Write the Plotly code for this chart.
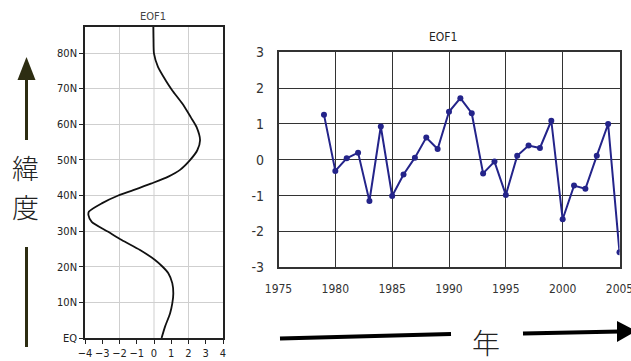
import plotly.graph_objects as go

# ---- Latitude profile of EOF1 (left panel) ----
profile_lat = [0, 3.2, 6.9, 9.7, 12.5, 15.4, 18.2, 20, 21.9, 24.7, 27.5, 29.8, 32.6,
               34.5, 35.5, 37.8, 40, 41.5, 43.4, 45.3, 47.2, 50, 52.7, 55.5, 59.2,
               62, 65.8, 69.5, 72.3, 76.1, 79.8, 84, 87.3]
profile_val = [0.44, 0.64, 0.93, 1.06, 1.12, 1.06, 0.83, 0.5, 0.06, -0.81, -1.87,
               -2.65, -3.61, -3.8, -3.77, -3.03, -2.07, -1.2, -0.14, 0.83, 1.51, 2.1,
               2.51, 2.67, 2.47, 2.13, 1.64, 1.06, 0.68, 0.23, 0.0, -0.03, -0.04]
lat_tickvals = [0, 10, 20, 30, 40, 50, 60, 70, 80]
lat_ticktext = ["EQ", "10N", "20N", "30N", "40N", "50N", "60N", "70N", "80N"]
profile_ticks = [-4, -3, -2, -1, 0, 1, 2, 3, 4]
profile_grid = [-2, 0, 2]

# ---- EOF1 time coefficients (right panel) ----
years = list(range(1979, 2006))
pc1 = [1.26, -0.31, 0.04, 0.2, -1.15, 0.93, -1.01, -0.41, 0.06, 0.62, 0.3,
       1.34, 1.72, 1.3, -0.38, -0.05, -0.98, 0.11, 0.4, 0.33, 1.09,
       -1.66, -0.72, -0.81, 0.11, 1.0, -2.58]
year_ticks = [1975, 1980, 1985, 1990, 1995, 2000, 2005]
pc_ticks = [3, 2, 1, 0, -1, -2, -3]
pc_ticktext = ["3", "2", "1", "0", "-1", "-2", "-3"]

W, H = 631, 361


def px(x):
    return x / W


def py(y):
    return 1 - y / H


narrow = "Liberation Sans Narrow, DejaVu Sans Condensed, Arial Narrow, sans-serif"
cjk = "Noto Sans CJK JP, Noto Sans CJK SC, sans-serif"

fig = go.Figure()

fig.add_trace(go.Scatter(
    x=profile_val, y=profile_lat, mode="lines",
    line=dict(color="#111111", width=1.8, shape="spline", smoothing=0.7),
    xaxis="x", yaxis="y", showlegend=False, hoverinfo="skip"))

fig.add_trace(go.Scatter(
    x=years, y=pc1, mode="lines+markers",
    line=dict(color="#24248a", width=2),
    marker=dict(color="#24248a", size=6, symbol="circle"),
    xaxis="x2", yaxis="y2", showlegend=False))

fig.update_layout(
    width=W, height=H,
    margin=dict(l=0, r=0, t=0, b=0, autoexpand=False),
    paper_bgcolor="white", plot_bgcolor="white",
    xaxis=dict(domain=[px(85), px(223)], range=[-4, 4], tickvals=profile_ticks,
               showgrid=False, zeroline=False, ticks="outside", ticklen=4,
               tickcolor="#222", showline=True, linecolor="#222", linewidth=1.5,
               mirror=True, tickfont=dict(family=narrow, size=11, color="#222"),
               automargin=False, ticklabeloverflow="allow", fixedrange=True),
    yaxis=dict(domain=[py(338), py(27)], range=[0, 87.3], tickvals=lat_tickvals,
               ticktext=lat_ticktext, showgrid=True, gridcolor="#cfcfcf",
               gridwidth=1, zeroline=False, ticks="outside", ticklen=4,
               tickcolor="#222", showline=True, linecolor="#222", linewidth=1.5,
               mirror=True, tickfont=dict(family=narrow, size=11, color="#222"),
               automargin=False, ticklabeloverflow="allow", fixedrange=True),
    xaxis2=dict(domain=[px(278.5), px(619.5)], range=[1975, 2005],
                tickvals=year_ticks, showgrid=True, gridcolor="#333",
                gridwidth=1.2, zeroline=False, showline=True, linecolor="#333",
                linewidth=1.5, mirror=True, ticks="", ticklabelstandoff=10,
                tickfont=dict(family=narrow, size=12, color="#333"),
                automargin=False, ticklabeloverflow="allow", anchor="y2",
                fixedrange=True),
    yaxis2=dict(domain=[py(267.3), py(52.3)], range=[-3, 3], tickvals=pc_ticks,
                ticktext=pc_ticktext, showgrid=True, gridcolor="#333",
                gridwidth=1.2, zeroline=False, showline=True, linecolor="#333",
                linewidth=1.5, mirror=True, ticks="", ticklabelstandoff=10,
                tickfont=dict(family=narrow, size=14, color="#333"),
                automargin=False, ticklabeloverflow="allow", anchor="x2",
                fixedrange=True),
)

shapes = []
# vertical grid lines in the profile panel
for g in profile_grid:
    shapes.append(dict(type="line", xref="x", yref="y domain", x0=g, x1=g, y0=0, y1=1,
                       line=dict(color="#cfcfcf", width=1), layer="below"))

# latitude arrow on the left
arrow_c = "#2d2d12"
shapes.append(dict(type="line", xref="paper", yref="paper",
                   x0=px(26.5), x1=px(26.5), y0=py(140), y1=py(79),
                   line=dict(color=arrow_c, width=3)))
shapes.append(dict(type="path", xref="paper", yref="paper",
                   path=f"M {px(17.5)} {py(80)} L {px(35.5)} {py(80)} L {px(26.5)} {py(57)} Z",
                   fillcolor=arrow_c, line=dict(color=arrow_c, width=0)))
shapes.append(dict(type="line", xref="paper", yref="paper",
                   x0=px(26.5), x1=px(26.5), y0=py(247), y1=py(347),
                   line=dict(color=arrow_c, width=3)))

# time arrow at the bottom
shapes.append(dict(type="line", xref="paper", yref="paper",
                   x0=px(280), x1=px(451), y0=py(338.5), y1=py(334),
                   line=dict(color="#000", width=4)))
shapes.append(dict(type="line", xref="paper", yref="paper",
                   x0=px(523), x1=px(620), y0=py(333.5), y1=py(331.5),
                   line=dict(color="#000", width=4)))
shapes.append(dict(type="path", xref="paper", yref="paper",
                   path=f"M {px(617)} {py(321)} L {px(617)} {py(342)} L {px(636)} {py(331)} Z",
                   fillcolor="#000", line=dict(color="#000", width=0)))
fig.update_layout(shapes=shapes)

annotations = [
    dict(text="EOF1", x=px(153), y=py(17), font=dict(family=narrow, size=11, color="#444")),
    dict(text="EOF1", x=px(443), y=py(37), font=dict(family=narrow, size=12, color="#222")),
    dict(text="緯", x=px(25), y=py(167),
         font=dict(family=cjk, size=27, color="#222", weight=300)),
    dict(text="度", x=px(25), y=py(206),
         font=dict(family=cjk, size=27, color="#222", weight=300)),
    dict(text="年", x=px(486), y=py(342),
         font=dict(family=cjk, size=28, color="#222", weight=300)),
]
for a in annotations:
    a.update(xref="paper", yref="paper", showarrow=False,
             xanchor="center", yanchor="middle")
fig.update_layout(annotations=annotations)

fig.write_html("out.html")
